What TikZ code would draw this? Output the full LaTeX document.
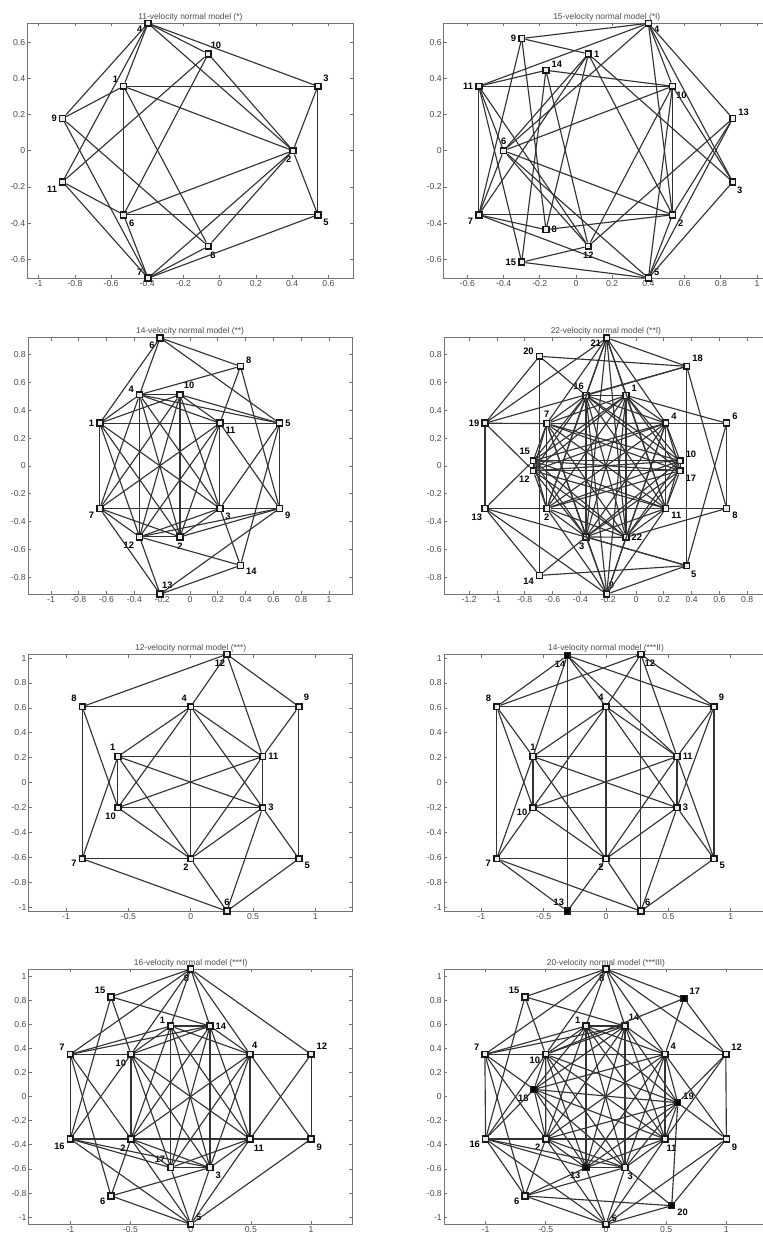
\documentclass[tikz,border=0pt]{standalone}
\usepackage{fontspec}
\setmainfont{Liberation Sans}
\usetikzlibrary{positioning}

% axes box of one panel: xmin, xmax, ymin, ymax, x ticks, y ticks, title
\newcommand{\velframe}[7]{%
  \draw[frame] (#1,#3) rectangle (#2,#4);
  \foreach \t in {#5} {
    \draw[frame] (\t,#3) -- ++(0pt,2.5pt);
    \draw[frame] (\t,#4) -- ++(0pt,-2.5pt);
    \node[tick, anchor=north] at (\t,#3) {\t};
  }
  \foreach \t in {#6} {
    \draw[frame] (#1,\t) -- ++(2.5pt,0pt);
    \draw[frame] (#2,\t) -- ++(-2.5pt,0pt);
    \node[tick, anchor=east] at (#1,\t) {\t};
  }
  \node[ttl, anchor=south] at ({(#1+#2)/2},#4) {#7};
}

\begin{document}
\begin{tikzpicture}[x=0.75pt, y=-0.75pt,
    frame/.style={draw=black!55, line width=0.6pt},
    tick/.style={font=\fontsize{6.5}{7}\selectfont, text=black!70, inner sep=1.5pt},
    ttl/.style={font=\fontsize{6.3}{7}\selectfont, text=black!70, inner sep=1.5pt},
    vel/.style={rectangle, draw=black!90, fill=black!8, line width=1.2pt, minimum size=4.4pt, inner sep=0pt},
    velfill/.style={vel, fill=black},
    lbl/.style={font=\fontsize{7}{8}\selectfont\bfseries, inner sep=0.8pt, label distance=0.5pt},
    lnk/.style={draw=black!80, line width=0.85pt}]
  \fill[white] (0,0) rectangle (763,1240);
  \useasboundingbox (0,0) rectangle (763,1240);

  % 11-velocity normal model (*)
  \begin{scope}[shift={(219.7,150.7)}, x=135.75pt, y=135.75pt]
    \velframe{-1.062}{0.738}{-0.705}{0.705}{-1,-0.8,-0.6,-0.4,-0.2,0,0.2,0.4,0.6}{-0.6,-0.4,-0.2,0,0.2,0.4,0.6}{11-velocity normal model (*)}
    \foreach \n/\x/\y/\a in {1/-0.531/0.356/150, 2/0.405/0/-95, 3/0.542/0.356/40, 4/-0.396/0.704/200,
        5/0.542/-0.354/-30, 6/-0.531/-0.354/-40, 7/-0.396/-0.704/165, 8/-0.063/-0.528/-80,
        9/-0.868/0.178/180, 10/-0.063/0.535/75, 11/-0.868/-0.172/210}
      \node[vel, label={[lbl]\a:\n}] (a\n) at (\x,\y) {};
    \foreach \u/\v in {1/3,6/5,1/6,3/5,4/10,7/8,4/3,7/5,4/2,7/2,10/2,8/2,1/2,6/2,3/2,5/2,9/4,11/7,
        9/1,11/6,9/8,11/10,9/7,11/4,1/8,6/10,4/1,7/6}
      \draw[lnk] (a\u) -- (a\v);
  \end{scope}

  % 15-velocity normal model (*I)
  \begin{scope}[shift={(576,150.7)}, x=135.75pt, y=135.75pt]
    \velframe{-0.73}{1.07}{-0.705}{0.705}{-0.6,-0.4,-0.2,0,0.2,0.4,0.6,0.8,1}{-0.6,-0.4,-0.2,0,0.2,0.4,0.6}{15-velocity normal model (*I)}
    \foreach \n/\x/\y/\a in {1/0.068/0.535/0, 2/0.533/-0.354/-40, 3/0.866/-0.172/-55, 4/0.4/0.704/-20,
        5/0.4/-0.704/20, 6/-0.4/0/90, 7/-0.537/-0.354/200, 8/-0.166/-0.436/0, 9/-0.3/0.62/180,
        10/0.533/0.356/-60, 11/-0.537/0.356/180, 12/0.068/-0.528/-90, 13/0.866/0.178/25,
        14/-0.166/0.444/20, 15/-0.3/-0.616/180}
      \node[vel, label={[lbl]\a:\n}] (b\n) at (\x,\y) {};
    \foreach \u/\v in {11/10,7/2,11/7,10/2,9/4,15/5,9/1,15/12,4/11,5/7,4/13,5/3,4/3,5/13,4/10,5/2,
        4/2,5/10,1/3,12/13,9/8,15/14,9/7,11/15,14/10,8/2,14/12,8/1,6/1,6/12,6/10,6/2,6/4,6/5,
        6/11,6/7,11/12,7/1,1/2,12/10,2/13,10/3,11/14,7/8}
      \draw[lnk] (b\u) -- (b\v);
  \end{scope}

  % 14-velocity normal model (**)
  \begin{scope}[shift={(190,466)}, x=104.25pt, y=104.25pt]
    \velframe{-1.165}{1.165}{-0.922}{0.922}{-1,-0.8,-0.6,-0.4,-0.2,0,0.2,0.4,0.6,0.8,1}{-0.8,-0.6,-0.4,-0.2,0,0.2,0.4,0.6,0.8}{14-velocity normal model (**)}
    \foreach \n/\x/\y/\a in {1/-0.649/0.308/180, 2/-0.072/-0.51/-90, 3/0.215/-0.305/-40,
        4/-0.363/0.513/170, 5/0.644/0.308/0, 6/-0.215/0.922/210, 7/-0.649/-0.305/210,
        8/0.363/0.717/20, 9/0.644/-0.305/-30, 10/-0.072/0.513/60, 11/0.215/0.308/-30,
        12/-0.363/-0.51/220, 13/-0.215/-0.922/80, 14/0.363/-0.715/-15}
      \node[vel, label={[lbl]\a:\n}] (c\n) at (\x,\y) {};
    \foreach \u [count=\i] in {1,4,10,11,7,12,2,3}
      \foreach \v [count=\j] in {1,4,10,11,7,12,2,3}
        {\ifnum\i<\j \draw[lnk] (c\u) -- (c\v); \fi}
    \foreach \u/\v in {11/5,3/9,5/9,6/1,13/7,6/4,13/12,6/8,13/14,6/5,13/9,8/4,14/12,8/11,14/3,
        8/9,14/5,5/3,9/11,5/4,9/12,5/10,9/2}
      \draw[lnk] (c\u) -- (c\v);
  \end{scope}

  % 22-velocity normal model (**I)
  \begin{scope}[shift={(636,466)}, x=104.25pt, y=104.25pt]
    \velframe{-1.382}{0.948}{-0.922}{0.922}{-1.2,-1,-0.8,-0.6,-0.4,-0.2,0,0.2,0.4,0.6,0.8}{-0.8,-0.6,-0.4,-0.2,0,0.2,0.4,0.6,0.8}{22-velocity normal model (**I)}
    \foreach \n/\x/\y/\a in {1/-0.072/0.508/30, 2/-0.642/-0.305/-90, 3/-0.36/-0.51/-95,
        4/0.214/0.308/30, 5/0.365/-0.717/-55, 6/0.652/0.308/25, 7/-0.642/0.305/90,
        8/0.652/-0.305/-25, 9/-0.211/-0.922/80, 10/0.317/0.038/20, 11/0.214/-0.305/-30,
        12/-0.739/-0.034/240, 13/-1.086/-0.305/250, 14/-0.695/-0.787/200, 15/-0.739/0.038/115,
        16/-0.36/0.508/100, 17/0.317/-0.034/-35, 18/0.365/0.717/35, 19/-1.086/0.308/180,
        20/-0.695/0.789/175, 21/-0.211/0.922/195, 22/-0.072/-0.513/0}
      \node[vel, label={[lbl]\a:\n}] (d\n) at (\x,\y) {};
    \foreach \u [count=\i] in {16,1,7,4,15,10,12,17,2,11,3,22}
      \foreach \v [count=\j] in {16,1,7,4,15,10,12,17,2,11,3,22}
        {\ifnum\i<\j \draw[lnk] (d\u) -- (d\v); \fi}
    \foreach \u/\v in {21/18,9/5,21/19,9/13,21/7,9/2,21/16,9/3,21/1,9/22,21/4,9/11,21/2,9/7,
        21/11,9/4,21/3,9/16,21/22,9/1,20/18,14/5,20/14,20/16,14/3,19/20,13/14,19/7,4/6,13/2,
        11/8,19/13,19/12,13/15,13/5,19/18,6/8,6/1,8/22,6/5,8/18,18/16,5/3,18/5}
      \draw[lnk] (d\u) -- (d\v);
  \end{scope}

  % 12-velocity normal model (***)
  \begin{scope}[shift={(190.7,782.7)}, x=93.5pt, y=93.5pt]
    \velframe{-1.3}{1.3}{-1.03}{1.03}{-1,-0.5,0,0.5,1}{-1,-0.8,-0.6,-0.4,-0.2,0,0.2,0.4,0.6,0.8,1}{12-velocity normal model (***)}
    \foreach \n/\x/\y/\a in {1/-0.584/0.21/105, 2/0/-0.61/-100, 3/0.577/-0.2/0, 4/0/0.61/120,
        5/0.868/-0.61/-20, 6/0.29/-1.03/90, 7/-0.87/-0.61/185, 8/-0.87/0.61/140,
        9/0.868/0.61/50, 10/-0.584/-0.2/-100, 11/0.577/0.21/0, 12/0.29/1.03/-95}
      \node[vel, label={[lbl]\a:\n}] (e\n) at (\x,\y) {};
    \foreach \u/\v in {8/4,4/9,7/2,2/5,8/7,9/5,4/2,1/10,11/3,1/11,10/3,12/8,6/7,12/4,6/2,12/9,
        6/5,12/11,6/3,8/10,7/1,9/11,5/3,4/1,2/10,4/10,2/1,4/11,2/3,4/3,2/11,1/3,10/11}
      \draw[lnk] (e\u) -- (e\v);
  \end{scope}

  % 14-velocity normal model (***II)
  \begin{scope}[shift={(606,782.7)}, x=93.5pt, y=93.5pt]
    \velframe{-1.3}{1.3}{-1.03}{1.03}{-1,-0.5,0,0.5,1}{-1,-0.8,-0.6,-0.4,-0.2,0,0.2,0.4,0.6,0.8,1}{14-velocity normal model (***II)}
    \foreach \n/\x/\y/\a in {1/-0.586/0.21/90, 2/0/-0.61/-105, 3/0.57/-0.2/0, 4/0/0.61/105,
        5/0.866/-0.61/-20, 6/0.28/-1.03/55, 7/-0.877/-0.61/185, 8/-0.877/0.61/140,
        9/0.866/0.61/50, 10/-0.586/-0.2/185, 11/0.57/0.21/0, 12/0.28/1.03/-60}
      \node[vel, label={[lbl]\a:\n}] (f\n) at (\x,\y) {};
    \foreach \n/\x/\y/\a in {13/-0.31/-1.03/115, 14/-0.31/1.02/-100}
      \node[velfill, label={[lbl]\a:\n}] (f\n) at (\x,\y) {};
    \foreach \u/\v in {8/4,4/9,7/2,2/5,8/7,9/5,4/2,1/10,11/3,1/11,10/3,8/10,7/1,9/11,5/3,4/1,
        2/10,4/10,2/1,4/11,2/3,4/3,2/11,1/3,10/11,14/13,12/6,14/8,13/7,14/1,14/4,14/9,14/11,
        13/2,12/8,12/4,12/9,12/11,6/7,6/2,6/5,6/3,8/1,7/10,9/3,5/11}
      \draw[lnk] (f\u) -- (f\v);
  \end{scope}

  % 16-velocity normal model (***I)
  \begin{scope}[shift={(190.7,1096.7)}, x=90.3pt, y=90.3pt]
    \velframe{-1.345}{1.345}{-1.06}{1.06}{-1,-0.5,0,0.5,1}{-1,-0.8,-0.6,-0.4,-0.2,0,0.2,0.4,0.6,0.8,1}{16-velocity normal model (***I)}
    \foreach \n/\x/\y/\a in {1/-0.166/0.587/170, 2/-0.496/-0.351/225, 3/0.16/-0.589/-35,
        4/0.493/0.352/80, 5/0/-1.06/25, 6/-0.662/-0.824/195, 7/-1/0.352/150, 8/0/1.06/-95,
        9/1/-0.351/-40, 10/-0.496/0.352/230, 11/0.493/-0.351/-60, 12/1/0.352/40,
        14/0.16/0.587/0, 15/-0.662/0.83/160, 16/-1/-0.351/210, 17/-0.166/-0.589/135}
      \node[vel, label={[lbl]\a:\n}] (g\n) at (\x,\y) {};
    \foreach \u [count=\i] in {1,14,10,4,2,11,17,3}
      \foreach \v [count=\j] in {1,14,10,4,2,11,17,3}
        {\ifnum\i<\j \draw[lnk] (g\u) -- (g\v); \fi}
    \foreach \u/\v in {7/10,4/12,16/2,11/9,7/16,12/9,8/15,5/6,8/7,5/16,8/10,5/2,8/14,5/3,8/4,
        5/11,8/12,5/9,8/1,5/17,15/14,6/3,15/10,6/2,15/16,6/7,12/11,9/4,7/1,16/17,7/14,16/3,
        7/2,16/10}
      \draw[lnk] (g\u) -- (g\v);
  \end{scope}

  % 20-velocity normal model (***III)
  \begin{scope}[shift={(606,1096.7)}, x=90.3pt, y=90.3pt]
    \velframe{-1.345}{1.345}{-1.06}{1.06}{-1,-0.5,0,0.5,1}{-1,-0.8,-0.6,-0.4,-0.2,0,0.2,0.4,0.6,0.8,1}{20-velocity normal model (***III)}
    \foreach \n/\x/\y/\a in {1/-0.166/0.587/165, 2/-0.5/-0.351/220, 3/0.158/-0.589/-75,
        4/0.49/0.352/40, 5/0/-1.06/20, 6/-0.673/-0.824/195, 7/-1.006/0.352/150, 8/0/1.06/-95,
        9/1/-0.351/-40, 10/-0.501/0.352/200, 11/0.49/-0.351/-85, 12/0.995/0.352/30,
        14/0.158/0.587/60, 15/-0.673/0.83/155, 16/-1/-0.351/195}
      \node[vel, label={[lbl]\a:\n}] (h\n) at (\x,\y) {};
    \foreach \n/\x/\y/\a in {13/-0.166/-0.589/215, 17/0.648/0.816/30, 18/-0.598/0.061/225,
        19/0.596/-0.05/20, 20/0.546/-0.905/-25}
      \node[velfill, label={[lbl]\a:\n}] (h\n) at (\x,\y) {};
    \foreach \u [count=\i] in {1,14,10,4,18,19,2,11,13,3}
      \foreach \v [count=\j] in {1,14,10,4,18,19,2,11,13,3}
        {\ifnum\i<\j \draw[lnk] (h\u) -- (h\v); \fi}
    \foreach \u/\v in {7/10,4/12,16/2,11/9,7/16,12/9,8/15,8/7,8/10,8/1,8/14,8/4,8/12,8/17,5/6,
        5/16,5/2,5/13,5/3,5/11,5/9,5/20,15/14,15/10,15/16,17/12,17/4,17/10,20/6,20/9,20/19,20/3,
        6/3,6/13,6/2,6/7,6/16,7/1,7/14,7/2,7/18,16/10,16/13,16/3,16/18,12/11,12/19,9/4,9/19}
      \draw[lnk] (h\u) -- (h\v);
  \end{scope}
\end{tikzpicture}
\end{document}
